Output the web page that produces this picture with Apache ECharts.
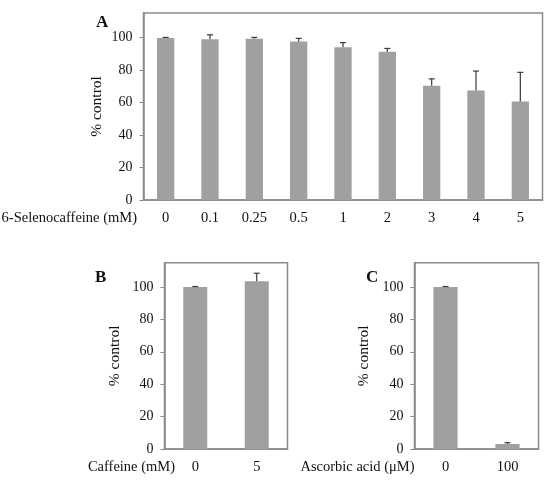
<!DOCTYPE html>
<html lang="en">
<head>
    <meta charset="UTF-8">
    <script src="https://cdn.jsdelivr.net/npm/echarts@6/dist/echarts.min.js"></script>
    <title>cell viability</title>
    <style>
        html, body { margin: 0; padding: 0; background: #fff; }
        #main { width: 550px; height: 480px; }
    </style>
</head>
<body>
    <div id="main"></div>
    <script type="text/javascript">
        // panel A: 6-selenocaffeine
        let catsA = ['0', '0.1', '0.25', '0.5', '1', '2', '3', '4', '5'];
        let valsA = [99.6, 98.8, 99.2, 97.5, 94.0, 91.2, 70.2, 67.3, 60.5];
        let errA = [0.4, 2.8, 0.8, 1.9, 2.8, 2.0, 4.3, 12.0, 18.0];
        // panel B: caffeine
        let catsB = ['0', '5'];
        let valsB = [100, 103.5];
        let errB = [0.3, 5.0];
        // panel C: ascorbic acid
        let catsC = ['0', '100'];
        let valsC = [100, 3.1];
        let errC = [0.3, 0.8];
        let yTicks = [0, 20, 40, 60, 80, 100];

        let font = 'Liberation Serif, Times New Roman, serif';
        let frameColor = '#8a8a8a';
        let barColor = '#a0a0a0';

        let myChart = echarts.init(document.getElementById('main'));

        let grids = [
            { left: 143.5, top: 13, width: 399, height: 187 },
            { left: 164.5, top: 262.7, width: 123, height: 186.3 },
            { left: 414.5, top: 262.7, width: 124, height: 186.3 }
        ];
        grids.forEach(function (g) {
            g.show = true;
            g.borderColor = frameColor;
            g.borderWidth = 1.5;
            g.backgroundColor = 'transparent';
        });

        function xAxisFor(idx, cats, name, gap) {
            return {
                type: 'category',
                gridIndex: idx,
                data: cats,
                name: name,
                nameLocation: 'start',
                nameGap: gap,
                nameMoveOverlap: false,
                nameTextStyle: {
                    fontFamily: font, fontSize: 14.5, color: '#111',
                    verticalAlign: 'top', padding: [11, 0, 0, 0]
                },
                axisLine: { show: true, lineStyle: { color: frameColor, width: 1.5 } },
                axisTick: { show: false },
                axisLabel: { margin: 11, fontFamily: font, fontSize: 14.5, color: '#111' }
            };
        }

        function yAxisFor(idx, gap) {
            return {
                type: 'value',
                gridIndex: idx,
                min: 0,
                max: 115,
                interval: 20,
                name: '% control',
                nameLocation: 'middle',
                nameGap: gap,
                nameMoveOverlap: false,
                nameTextStyle: { fontFamily: font, fontSize: 15.5, color: '#111' },
                splitLine: { show: false },
                axisLine: { show: true, lineStyle: { color: frameColor, width: 1.5 } },
                axisTick: { show: true, length: 4, customValues: yTicks, lineStyle: { color: frameColor } },
                axisLabel: { margin: 11, customValues: yTicks, fontFamily: font, fontSize: 14, color: '#111' }
            };
        }

        function barSeries(idx, vals) {
            return {
                type: 'bar',
                xAxisIndex: idx,
                yAxisIndex: idx,
                data: vals,
                barWidth: '39%',
                itemStyle: { color: barColor },
                silent: true
            };
        }

        function errSeries(idx, vals, errs) {
            return {
                type: 'custom',
                xAxisIndex: idx,
                yAxisIndex: idx,
                silent: true,
                data: vals.map(function (v, i) { return [i, v, v + errs[i]]; }),
                renderItem: function (params, api) {
                    let base = api.coord([api.value(0), api.value(1)]);
                    let top = api.coord([api.value(0), api.value(2)]);
                    let style = { stroke: '#3a3a3a', lineWidth: 1.2 };
                    return {
                        type: 'group',
                        children: [
                            { type: 'line', shape: { x1: base[0], y1: base[1], x2: top[0], y2: top[1] }, style: style },
                            { type: 'line', shape: { x1: top[0] - 3, y1: top[1], x2: top[0] + 3, y2: top[1] }, style: style }
                        ]
                    };
                },
                z: 5
            };
        }

        let letterStyle = { fontFamily: font, fontSize: 17, fontWeight: 'bold', color: '#111' };

        let option = {
            animation: false,
            title: [
                { text: 'A', left: 96, top: 14, padding: 0, textStyle: letterStyle },
                { text: 'B', left: 95, top: 269, padding: 0, textStyle: letterStyle },
                { text: 'C', left: 366, top: 269, padding: 0, textStyle: letterStyle }
            ],
            grid: grids,
            xAxis: [
                xAxisFor(0, catsA, '6-Selenocaffeine (mM)', 6.5),
                xAxisFor(1, catsB, 'Caffeine (mM)', -10.5),
                xAxisFor(2, catsC, 'Ascorbic acid (\u03bcM)', 0)
            ],
            yAxis: [yAxisFor(0, 38.5), yAxisFor(1, 42), yAxisFor(2, 43)],
            series: [
                barSeries(0, valsA), errSeries(0, valsA, errA),
                barSeries(1, valsB), errSeries(1, valsB, errB),
                barSeries(2, valsC), errSeries(2, valsC, errC)
            ]
        };

        myChart.setOption(option);
    </script>
</body>
</html>
